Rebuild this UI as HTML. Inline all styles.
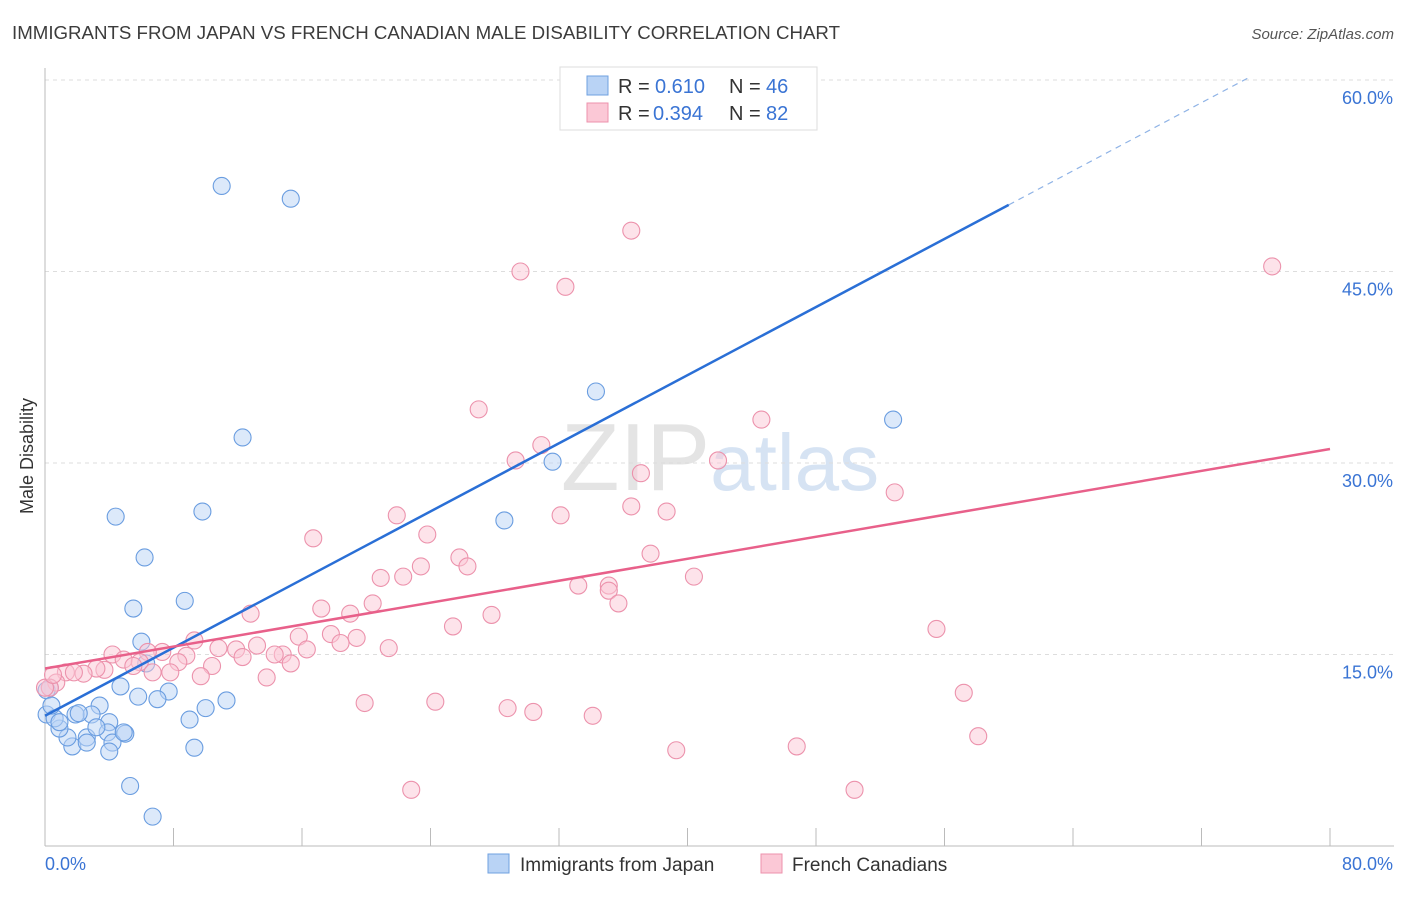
<!DOCTYPE html>
<html><head><meta charset="utf-8"><style>
body{margin:0;background:#fff;font-family:"Liberation Sans",sans-serif;}
svg text{font-family:"Liberation Sans",sans-serif;}
</style></head><body>
<svg id="chart" width="1406" height="892" xmlns="http://www.w3.org/2000/svg">
<text x="12" y="39" font-size="18" fill="#3c3c3c" textLength="828" lengthAdjust="spacingAndGlyphs">IMMIGRANTS FROM JAPAN VS FRENCH CANADIAN MALE DISABILITY CORRELATION CHART</text>
<text x="1394" y="39" font-size="15" fill="#555" font-style="italic" text-anchor="end">Source: ZipAtlas.com</text>
<text x="720" y="490" font-size="96" text-anchor="middle" fill="#e4e4e4" font-family="Liberation Serif"><tspan>ZIP</tspan><tspan fill="#d6e3f3" font-family="Liberation Sans" font-size="80">atlas</tspan></text>
<text transform="translate(33,456) rotate(-90)" font-size="18" fill="#333" text-anchor="middle">Male Disability</text>
<g id="grid"></g><g id="axes"></g><g id="marks"></g>
<g>
<rect x="560" y="67" width="257" height="63" fill="#fff" stroke="#ddd"/>
<rect x="587" y="76" width="21" height="19" fill="#b9d3f5" stroke="#6fa0e0"/>
<rect x="587" y="103" width="21" height="19" fill="#fbc8d6" stroke="#ec92ac"/>
<text x="618" y="93" font-size="20" fill="#333">R =</text>
<text x="655" y="93" font-size="20" fill="#3a74d4">0.610</text>
<text x="729" y="93" font-size="20" fill="#333">N =</text>
<text x="766" y="93" font-size="20" fill="#3a74d4">46</text>
<text x="618" y="120" font-size="20" fill="#333">R =</text>
<text x="653" y="120" font-size="20" fill="#3a74d4">0.394</text>
<text x="729" y="120" font-size="20" fill="#333">N =</text>
<text x="766" y="120" font-size="20" fill="#3a74d4">82</text>
</g>
<g>
<rect x="488" y="854" width="21" height="19" fill="#b9d3f5" stroke="#6fa0e0"/>
<text x="520" y="871" font-size="19" fill="#333">Immigrants from Japan</text>
<rect x="761" y="854" width="21" height="19" fill="#fbc8d6" stroke="#ec92ac"/>
<text x="792" y="871" font-size="19" fill="#333">French Canadians</text>
</g>
</svg>
<script>
const xTicks=[0,8,16,24,32,40,48,56,64,72,80];
const yTicks=[15,30,45,60];
const blueX=[11.0,15.3,34.3,52.8,12.3,31.6,4.4,9.8,28.6,6.2,8.7,5.5,6.0,6.3,7.7,5.8,7.0,11.3,10.0,9.0,9.3,4.7,3.4,4.0,3.9,5.0,4.2,2.6,1.7,1.4,0.9,0.1,0.6,0.9,2.9,1.9,3.2,2.1,4.0,5.3,6.7,0.3,0.1,0.4,2.6,4.9];
const blueY=[51.7,50.7,35.6,33.4,32.0,30.1,25.8,26.2,25.5,22.6,19.2,18.6,16.0,14.3,12.1,11.7,11.5,11.4,10.8,9.9,7.7,12.5,11.0,9.7,8.9,8.8,8.1,8.5,7.8,8.5,9.2,10.3,10.0,9.7,10.3,10.3,9.3,10.4,7.4,4.7,2.3,12.4,12.2,11.0,8.1,8.9];
const pinkX=[36.5,76.4,29.6,32.4,27.0,44.6,30.9,29.3,37.1,41.9,52.9,36.5,38.7,32.1,21.9,23.8,16.7,25.8,37.7,26.3,23.4,20.9,22.3,33.2,40.4,35.1,35.1,35.7,20.4,27.8,12.8,17.2,19.0,25.4,55.5,17.8,19.4,15.8,18.4,21.4,9.3,13.2,16.3,10.8,11.9,12.3,14.8,14.3,15.3,13.8,10.4,7.3,6.4,8.8,8.3,4.2,4.9,5.9,5.5,3.7,3.2,2.4,1.3,1.8,6.7,7.8,9.7,0.7,0.3,19.9,24.3,28.8,30.4,34.1,57.2,58.1,39.3,46.8,22.8,50.4,0.0,0.5];
const pinkY=[48.2,45.4,45.0,43.8,34.2,33.4,31.4,30.2,29.2,30.2,27.7,26.6,26.2,25.9,25.9,24.4,24.1,22.6,22.9,21.9,21.9,21.0,21.1,20.4,21.1,20.4,20.0,19.0,19.0,18.1,18.2,18.6,18.2,17.2,17.0,16.6,16.3,16.4,15.9,15.5,16.1,15.7,15.4,15.5,15.4,14.8,15.0,15.0,14.3,13.2,14.1,15.2,15.2,14.9,14.4,15.0,14.6,14.4,14.1,13.8,13.9,13.5,13.6,13.6,13.6,13.6,13.3,12.8,12.4,11.2,11.3,10.8,10.5,10.2,12.0,8.6,7.5,7.8,4.4,4.4,12.4,13.4];
const blueFit=[10.2,0.667];
const pinkFit=[13.9,0.215];
const X0=45,X1=1330,Y0=846,YS=191.5/15;
const sx=v=>X0+(v/80)*(X1-X0);
const sy=v=>Y0-v*YS;
const NS="http://www.w3.org/2000/svg";
function mk(p,t,a){const e=document.createElementNS(NS,t);for(const k in a)e.setAttribute(k,a[k]);document.getElementById(p).appendChild(e);return e;}
yTicks.forEach(t=>{
 const g=mk('grid','line',{x1:X0,x2:1394,y1:sy(t),y2:sy(t),stroke:'#ddd','stroke-dasharray':'4,4'});
 
 
 const l=mk('axes','text',{x:1393,y:sy(t)+24,'font-size':18,fill:'#3a74d4','text-anchor':'end'});l.textContent=t.toFixed(1)+'%';
 
 
});
mk('axes','line',{x1:X0,x2:X0,y1:68,y2:Y0,stroke:'#bbb'});
mk('axes','line',{x1:X0,x2:1394,y1:Y0,y2:Y0,stroke:'#bbb'});
xTicks.forEach(t=>{
 const k=mk('axes','line',{x1:sx(t),x2:sx(t),y1:Y0,y2:Y0-18,stroke:'#bbb'});
 
 
});
[[0,'start',45],[80,'end',1393]].forEach(([t,a,x])=>{const l=mk('axes','text',{x:x,y:870,'font-size':18,fill:'#3a74d4','text-anchor':a});l.textContent=t.toFixed(1)+'%';
 
 });
function pts(xs,ys,fill,stroke,name){xs.forEach((x,i)=>{const c=mk('marks','circle',{cx:sx(x),cy:sy(ys[i]),r:8.5,fill:fill,'fill-opacity':0.5,stroke:stroke,'stroke-width':1.1});
 
 });}
pts(blueX,blueY,'#b9d3f5','#6a9de0','japan-point');
pts(pinkX,pinkY,'#fbc8d6','#ec92ac','french-canadian-point');
const bx1=60,bx2=(60.2-blueFit[0])/blueFit[1];
const b1=mk('marks','line',{x1:sx(0),y1:sy(blueFit[0]),x2:sx(bx1),y2:sy(blueFit[0]+blueFit[1]*bx1),stroke:'#2a6fd6','stroke-width':2.5});


const b2=mk('marks','line',{x1:sx(bx1),y1:sy(blueFit[0]+blueFit[1]*bx1),x2:sx(bx2),y2:sy(blueFit[0]+blueFit[1]*bx2),stroke:'#8fb3e6','stroke-width':1.2,'stroke-dasharray':'6,5'});


const p1=mk('marks','line',{x1:sx(0),y1:sy(pinkFit[0]),x2:sx(80),y2:sy(pinkFit[0]+pinkFit[1]*80),stroke:'#e8608a','stroke-width':2.5});


</script>
</body></html>
